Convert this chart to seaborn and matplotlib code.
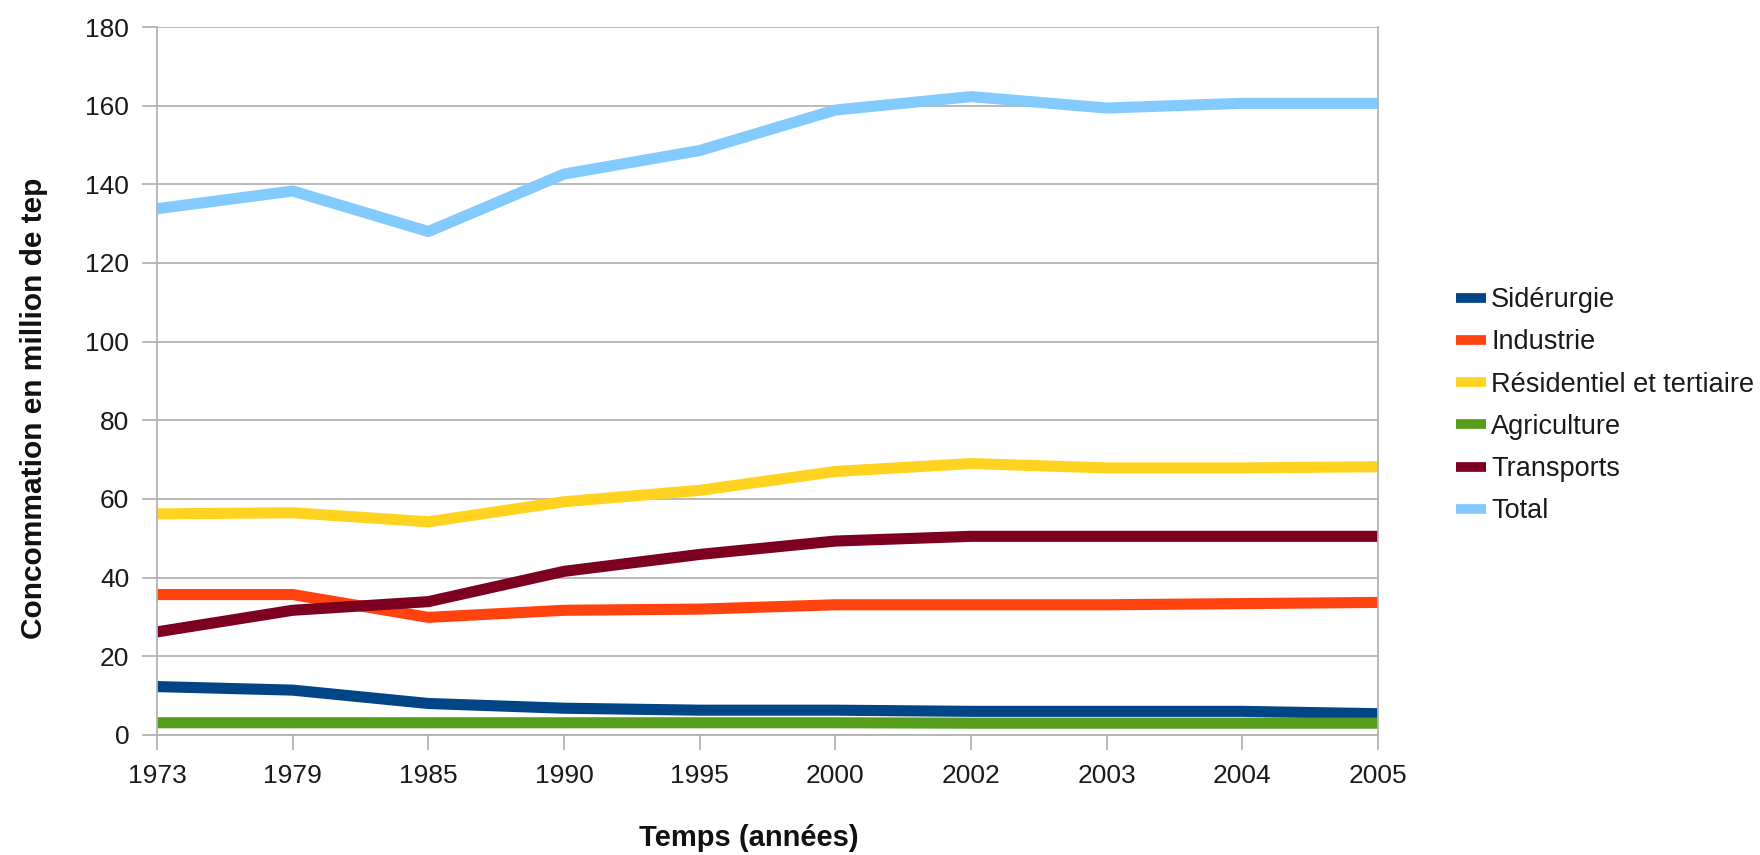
import matplotlib
matplotlib.use("Agg")
import matplotlib.pyplot as plt
import seaborn as sns
import pandas as pd
from matplotlib.lines import Line2D

years = ["1973", "1979", "1985", "1990", "1995", "2000", "2002", "2003", "2004", "2005"]

siderurgie = [12.3, 11.4, 8.0, 6.8, 6.3, 6.3, 6.0, 6.0, 6.0, 5.4]
industrie = [35.7, 35.7, 29.9, 31.7, 32.0, 33.1, 33.1, 33.1, 33.4, 33.7]
residentiel = [56.2, 56.5, 54.2, 59.3, 62.2, 67.0, 69.0, 67.9, 67.9, 68.2]
agriculture = [3.1, 3.1, 3.1, 3.1, 3.1, 3.1, 3.0, 3.0, 3.0, 3.0]
transports = [26.2, 31.7, 33.9, 41.6, 45.9, 49.3, 50.5, 50.5, 50.5, 50.5]
total = [133.8, 138.3, 128.0, 142.6, 148.6, 158.9, 162.3, 159.4, 160.6, 160.6]

series_names = ["Sidérurgie", "Industrie", "Résidentiel et tertiaire",
                "Agriculture", "Transports", "Total"]
series_values = [siderurgie, industrie, residentiel, agriculture, transports, total]
colors = ["#004586", "#ff420e", "#ffd320", "#579d1c", "#7e0021", "#83caff"]

rows = []
for name, vals in zip(series_names, series_values):
    for i, (yr, v) in enumerate(zip(years, vals)):
        rows.append({"pos": i, "Année": yr, "Série": name, "Valeur": v})
df = pd.DataFrame(rows)

sns.set_theme(style="white")
plt.rcParams["font.family"] = ["Liberation Sans", "DejaVu Sans"]

fig = plt.figure(figsize=(17.6, 8.55), dpi=100)
ax = fig.add_axes([0.0892, 0.1404, 0.6938, 0.828])

palette = dict(zip(series_names, colors))
sns.lineplot(data=df, x="pos", y="Valeur", hue="Série", hue_order=series_names,
             palette=palette, linewidth=8, sort=False, legend=False, ax=ax,
             solid_capstyle="butt")

ax.set_xlim(0, len(years) - 1)
ax.set_ylim(0, 180)
ax.set_xticks(range(len(years)))
ax.set_xticklabels(years)
ax.set_yticks(range(0, 181, 20))

grid_col = "#b3b3b3"
ax.yaxis.grid(True, color=grid_col, linewidth=1.3)
ax.xaxis.grid(False)
ax.set_axisbelow(True)
for side in ["left", "right", "bottom"]:
    ax.spines[side].set_visible(True)
    ax.spines[side].set_color(grid_col)
    ax.spines[side].set_linewidth(1.3)
ax.spines["top"].set_visible(False)

ax.tick_params(axis="x", direction="out", length=11, width=1.3, color=grid_col,
               labelsize=19, pad=10, labelcolor="#1a1a1a", bottom=True)
ax.tick_params(axis="y", direction="out", length=11, width=1.3, color=grid_col,
               labelsize=19, pad=9, labelcolor="#1a1a1a", left=True)

ax.set_xlabel("Temps (années)", fontsize=21, fontweight="bold", color="#111111")
ax.set_ylabel("Concommation en million de tep", fontsize=21.5, fontweight="bold",
              color="#111111")
ax.xaxis.set_label_coords(0.485, -0.126)
ax.yaxis.set_label_coords(-0.089, 0.461)

handles = [Line2D([0], [0], color=c, linewidth=7, solid_capstyle="butt") for c in colors]
fig.legend(handles, series_names, loc="upper left", bbox_to_anchor=(0.8195, 0.68),
           frameon=False, fontsize=19.5, handlelength=1.1, handletextpad=0.2,
           labelspacing=0.6, borderpad=0, labelcolor="#1a1a1a")

fig.savefig("out.png", dpi=100, facecolor="white")
